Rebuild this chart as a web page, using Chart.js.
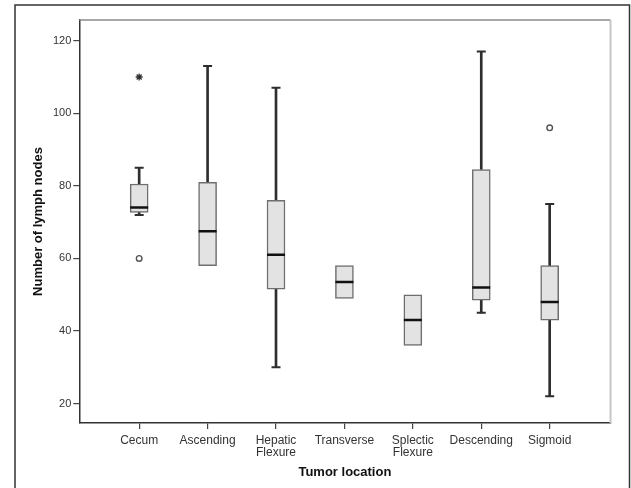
<!DOCTYPE html>
<html>
<head>
<meta charset="utf-8">
<script src="https://cdn.jsdelivr.net/npm/chart.js@4.4.1/dist/chart.umd.min.js"></script>
<style>
  body { margin: 0; background: #fff; }
  #wrap { width: 631px; height: 488px; }
</style>
</head>
<body>
<div id="wrap"><canvas id="boxChart" width="631" height="488"></canvas></div>
<script>
// box plot values
const categories = ['Cecum', 'Ascending', ['Hepatic', 'Flexure'], 'Transverse', ['Splectic', 'Flexure'], 'Descending', 'Sigmoid'];
const whiskerLow  = [72,   58,  30,   49,   36, 45,   22];
const q1          = [72.7, 58,  51.5, 49,   36, 48.5, 43];
const median      = [74,   67.5, 61,  53.5, 43, 52,   48];
const q3          = [80.5, 81,  76,   58,   50, 84.5, 58];
const whiskerHigh = [85,  113, 107,   58,   50, 117,  75];
const outlierCat = [0, 6];
const outlierVal = [60, 96];
const extremeCat = [0];
const extremeVal = [110];
const yTicks = [20, 40, 60, 80, 100, 120];

const font = "'Liberation Sans', Arial, sans-serif";

// whiskers and caps only where they stick out of the box
const caps = [];
const whiskers = [];
categories.forEach((c, i) => {
    if (whiskerLow[i] < q1[i]) {
        caps.push({x: i, y: whiskerLow[i]});
        whiskers.push({x: i, y: [whiskerLow[i], q1[i]]});
    }
    if (whiskerHigh[i] > q3[i]) {
        caps.push({x: i, y: whiskerHigh[i]});
        whiskers.push({x: i, y: [q3[i], whiskerHigh[i]]});
    }
});

// frame around the picture and the light top/right edges of the plot
const framePlugin = {
    id: 'frame',
    afterDraw(chart) {
        const ctx = chart.ctx;
        const a = chart.chartArea;
        ctx.save();
        ctx.lineWidth = 1.5;
        ctx.strokeStyle = '#8a8a8a';
        ctx.beginPath();
        ctx.moveTo(a.left, a.top);
        ctx.lineTo(a.right, a.top);
        ctx.stroke();
        ctx.lineWidth = 2;
        ctx.strokeStyle = '#c6c6c6';
        ctx.beginPath();
        ctx.moveTo(a.right, a.top);
        ctx.lineTo(a.right, a.bottom);
        ctx.stroke();
        ctx.lineWidth = 1.5;
        ctx.strokeStyle = '#333';
        ctx.strokeRect(15, 5, 614.5, 600);
        ctx.restore();
    }
};

const ctx = document.getElementById('boxChart').getContext('2d');
new Chart(ctx, {
    type: 'bar',
    data: {
        datasets: [
            {
                label: 'box',
                data: categories.map((c, i) => ({x: i, y: [q1[i], q3[i]]})),
                backgroundColor: '#e3e3e3',
                borderColor: '#6e6e6e',
                borderWidth: 1.5,
                borderSkipped: false,
                barThickness: 18,
                grouped: false,
                order: 2
            },
            {
                label: 'whisker',
                data: whiskers,
                backgroundColor: '#2e2e2e',
                borderWidth: 0,
                barThickness: 2,
                grouped: false,
                order: 3
            },
            {
                type: 'scatter',
                label: 'caps',
                data: caps,
                pointStyle: 'line',
                radius: 4.5,
                borderWidth: 2,
                borderColor: '#2e2e2e',
                order: 1
            },
            {
                type: 'scatter',
                label: 'median',
                data: categories.map((c, i) => ({x: i, y: median[i]})),
                pointStyle: 'line',
                radius: 9,
                borderWidth: 2.5,
                borderColor: '#111',
                order: 0
            },
            {
                type: 'scatter',
                label: 'outliers',
                data: outlierCat.map((c, i) => ({x: c, y: outlierVal[i]})),
                pointStyle: 'circle',
                radius: 2.8,
                borderWidth: 1.4,
                borderColor: '#555',
                backgroundColor: '#fff',
                order: 0
            },
            {
                type: 'scatter',
                label: 'extremes',
                data: extremeCat.map((c, i) => ({x: c, y: extremeVal[i]})),
                pointStyle: 'star',
                radius: 3.5,
                borderWidth: 1.3,
                borderColor: '#333',
                order: 0
            }
        ]
    },
    options: {
        responsive: false,
        animation: false,
        devicePixelRatio: 1,
        layout: { padding: { top: 20, right: 20.5, left: 0, bottom: 0 } },
        plugins: { legend: { display: false }, tooltip: { enabled: false } },
        scales: {
            x: {
                type: 'linear',
                offset: false,
                min: -0.875,
                max: 6.889,
                afterBuildTicks: s => { s.ticks = categories.map((c, i) => ({value: i})); },
                afterFit: s => { s.height = 65; },
                grid: { display: true, offset: false, drawOnChartArea: false, tickLength: 6, color: '#444', lineWidth: 1.2 },
                border: { color: '#333', width: 1.5 },
                ticks: {
                    autoSkip: false,
                    maxRotation: 0,
                    padding: 5,
                    color: '#333',
                    font: { family: font, size: 12, lineHeight: 1.05 },
                    callback: v => categories[v]
                },
                title: {
                    display: true,
                    text: 'Tumor location',
                    color: '#111',
                    font: { family: font, size: 13, weight: 'bold' },
                    padding: { top: 0, bottom: 8 }
                }
            },
            y: {
                min: 14.65,
                max: 125.7,
                afterBuildTicks: s => { s.ticks = yTicks.map(v => ({value: v})); },
                afterFit: s => { s.width = 79.3; },
                grid: { display: true, drawOnChartArea: false, tickLength: 6, color: '#444', lineWidth: 1.2 },
                border: { color: '#333', width: 1.5 },
                ticks: {
                    padding: 2,
                    color: '#333',
                    font: { family: font, size: 11 }
                },
                title: {
                    display: true,
                    text: 'Number of lymph nodes',
                    color: '#111',
                    font: { family: font, size: 13, weight: 'bold' },
                    padding: { top: 31, bottom: 0 }
                }
            }
        }
    },
    plugins: [framePlugin]
});
</script>
</body>
</html>
